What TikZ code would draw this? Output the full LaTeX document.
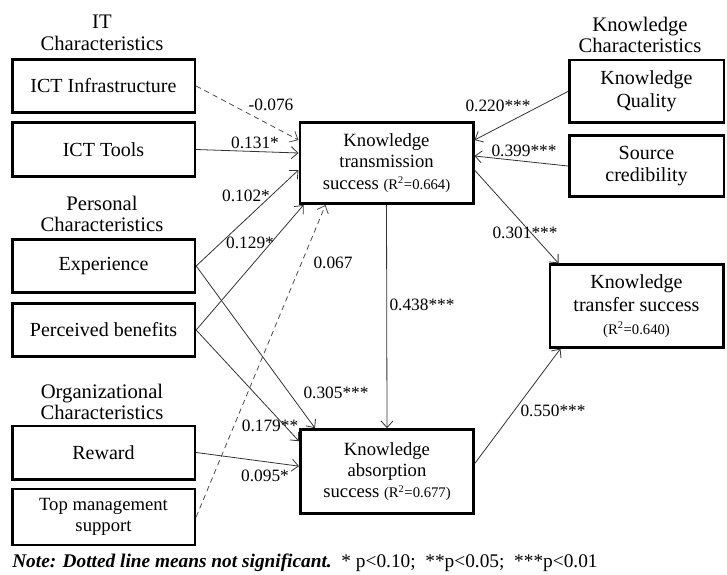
\documentclass[tikz,border=0pt]{standalone}
\usepackage{fontspec}
\setmainfont{Liberation Serif}
\usetikzlibrary{positioning, arrows.meta, calc}

\newcommand{\rsquare}[1]{{\fontsize{11}{13}\selectfont(R\textsuperscript{2}=#1)}}

\begin{document}
\begin{tikzpicture}[
    x=0.75pt, y=-0.75pt,
    factor/.style={draw, line width=2pt, minimum width=137pt, minimum height=40pt, align=center, font=\fontsize{15}{17}\selectfont},
    outcome/.style={draw, line width=2pt, minimum width=130pt, minimum height=61pt, align=center, font=\fontsize{14}{16}\selectfont},
    group/.style={align=center, font=\fontsize{15.5}{16}\selectfont},
    effect/.style={-{Straight Barb[length=5pt,width=9pt]}, line width=0.6pt, draw=black!80},
    nseffect/.style={effect, dash pattern=on 4pt off 3pt, draw=black!70},
    coef/.style={font=\fontsize{13}{15}\selectfont}
]
    \useasboundingbox (0,0) rectangle (727,574);

    % Left column: antecedents
    \node[group] (itlab) at (102,33) {IT\\Characteristics};
    \node[factor] (infra) at (103.5,86) {ICT Infrastructure};
    \node[factor] (tools) at (103.5,149.5) {ICT Tools};
    \node[group] (perlab) at (102,214) {Personal\\Characteristics};
    \node[factor] (exper) at (103.5,266) {Experience};
    \node[factor] (benef) at (103.5,330) {Perceived benefits};
    \node[group] (orglab) at (102,402) {Organizational\\Characteristics};
    \node[factor] (reward) at (103.5,452.5) {Reward};
    \node[factor, minimum height=42pt, font=\fontsize{14}{16}\selectfont] (topmgt) at (103.5,517) {Top management\\support};

    % Middle column: outcomes
    \node[outcome] (trans) at (386.5,163) {Knowledge\\transmission\\success \rsquare{0.664}};
    \node[outcome, minimum height=63pt] (absorp) at (387,471.5) {Knowledge\\absorption\\success \rsquare{0.677}};

    % Right column
    \node[group] (knowlab) at (640,35) {Knowledge\\Characteristics};
    \node[factor, minimum width=116pt, minimum height=47pt] (quality) at (646.5,91.5) {Knowledge\\Quality};
    \node[factor, minimum width=116pt, minimum height=46pt] (source) at (646.5,166) {Source\\credibility};
    \node[outcome, minimum height=62pt, font=\fontsize{15}{17}\selectfont] (transfer) at (636.5,306) {Knowledge\\transfer success\\\rsquare{0.640}};

    % Paths into transmission success
    \draw[nseffect] (infra.east) -- ($(trans.west)+(0,-23)$);
    \draw[effect] (tools.east) -- ($(trans.west)+(0,-10)$);
    \draw[effect] (exper.east) -- ($(trans.west)+(0,7)$);
    \draw[effect] (benef.east) -- ($(trans.south west)+(5,0)$);
    \draw[nseffect] (topmgt.east) -- ($(trans.south west)+(27,0)$);
    \draw[effect] (quality.west) -- ($(trans.north east)+(0,19)$);
    \draw[effect] (source.west) -- ($(trans.north east)+(0,35)$);

    % Paths into absorption success
    \draw[effect] (exper.east) -- ($(absorp.north west)+(16,0)$);
    \draw[effect] (benef.east) -- ($(absorp.north west)+(0,13)$);
    \draw[effect] (reward.east) -- ($(absorp.north west)+(0,38)$);
    \draw[effect] (trans.south) -- (absorp.north);

    % Paths into transfer success
    \draw[effect] ($(trans.north east)+(0,49)$) -- ($(transfer.north west)+(10,0)$);
    \draw[effect] ($(absorp.north east)+(0,35)$) -- ($(transfer.south west)+(12,0)$);

    % Coefficients
    \node[coef] (cinfra) at (271,105) {-0.076};
    \node[coef] (ctools) at (255,143) {0.131*};
    \node[coef] (cexpt) at (246,196) {0.102*};
    \node[coef] (cbenft) at (250,243) {0.129*};
    \node[coef] (ctopt) at (333,263) {0.067};
    \node[coef] (cta) at (422,305) {0.438***};
    \node[coef] (cexpa) at (336,393) {0.305***};
    \node[coef] (cbenfa) at (270,426) {0.179**};
    \node[coef] (creward) at (265,476) {0.095*};
    \node[coef] (cquality) at (498,106) {0.220***};
    \node[coef] (csource) at (524,151) {0.399***};
    \node[coef] (ctt) at (525,233) {0.301***};
    \node[coef] (cat) at (553,411) {0.550***};

    % Note
    \node[anchor=west, inner sep=0pt, font=\fontsize{14.5}{16}\selectfont] (note) at (12,563) {\textbf{\textit{Note: Dotted line means not significant.}}\ \ * p<0.10;\ \ **p<0.05;\ \ ***p<0.01};

\end{tikzpicture}
\end{document}
